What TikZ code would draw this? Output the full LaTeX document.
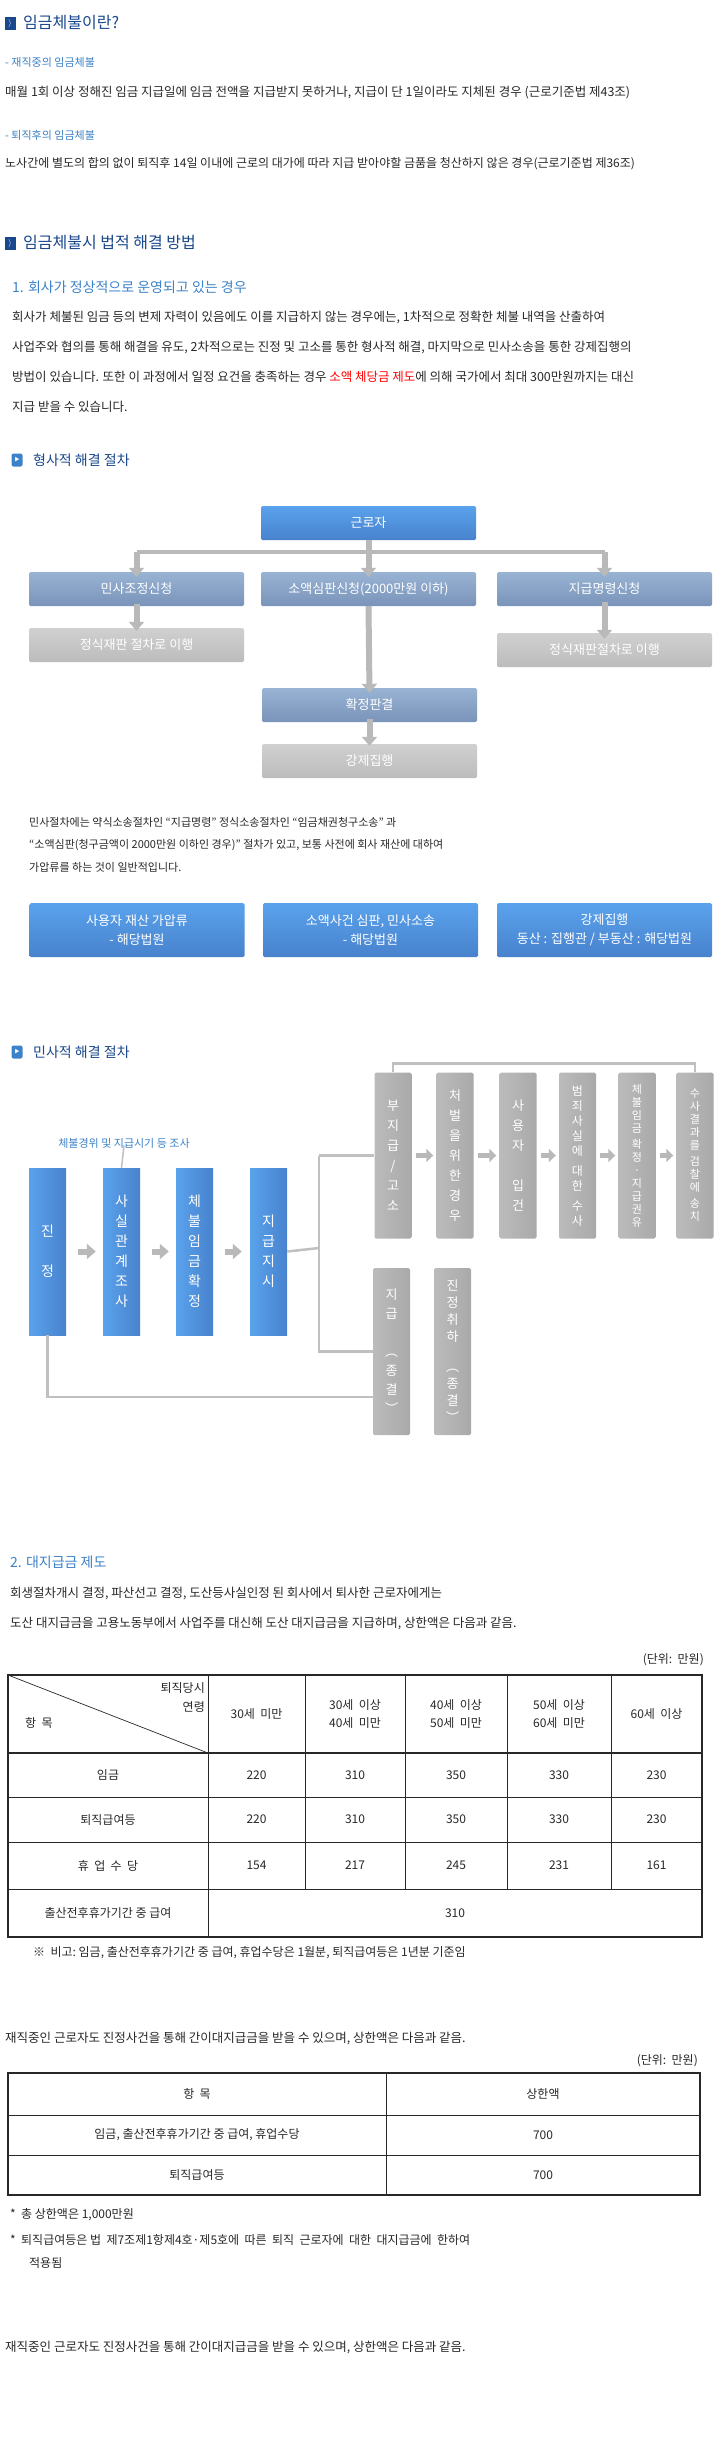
\documentclass[tikz,border=0pt]{standalone}
\usepackage{fontspec}
\setmainfont{Noto Sans CJK KR}
\usetikzlibrary{arrows.meta,calc}

\definecolor{titleblue}{RGB}{26,72,140}
\definecolor{subblue}{RGB}{60,130,200}
\definecolor{bluetop}{RGB}{90,162,236}
\definecolor{bluebot}{RGB}{72,130,205}
\definecolor{steeltop}{RGB}{152,179,211}
\definecolor{steelbot}{RGB}{122,148,186}
\definecolor{graytop}{RGB}{208,208,208}
\definecolor{graybot}{RGB}{188,188,188}
\definecolor{argray}{RGB}{185,185,185}
\definecolor{txt}{RGB}{40,40,40}

\newcommand{\fsz}[2]{\fontsize{#1}{#2}\selectfont}

\tikzstyle{body}      = [anchor=west,inner sep=0,text=txt,font=\fsz{12.5}{15}]
\tikzstyle{small}     = [anchor=west,inner sep=0,text=txt,font=\fsz{11}{13}]
\tikzstyle{tcell}     = [inner sep=0,text=txt,font=\fsz{12}{18},align=center]
\tikzstyle{head}      = [anchor=west,inner sep=0,text=titleblue,font=\fsz{16}{18}]
\tikzstyle{subhead}   = [anchor=west,inner sep=0,text=subblue,font=\fsz{14}{16}]
\tikzstyle{hicon}     = [fill=titleblue,minimum width=11pt,minimum height=13pt,inner sep=0,text=white,font=\fsz{8}{8}]
\tikzstyle{sicon}     = [fill=subblue,rounded corners=2pt,minimum width=11pt,minimum height=13pt,inner sep=0,text=white,font=\fsz{5}{5}]
\tikzstyle{flowbox}   = [minimum width=215pt,minimum height=34pt,inner sep=0,rounded corners=1.5pt,text=white,font=\fsz{13}{19},align=center]
\tikzstyle{bluebox}   = [flowbox,top color=bluetop,bottom color=bluebot]
\tikzstyle{steelbox}  = [flowbox,top color=steeltop,bottom color=steelbot]
\tikzstyle{graybox}   = [flowbox,top color=graytop,bottom color=graybot]
\tikzstyle{bluecol}   = [minimum width=37pt,minimum height=167pt,inner sep=0,left color=bluetop,right color=bluebot,text=white,font=\fsz{14}{20},align=center]
\tikzstyle{graycol}   = [minimum width=37pt,minimum height=166pt,inner sep=0,rounded corners=1.5pt,left color=graytop!90!black,right color=graybot!90!black,text=white,font=\fsz{13}{20},align=center]
\tikzstyle{garrow}    = [draw=argray,line width=6pt,-{Triangle[length=9pt,width=15pt]}]
\tikzstyle{gline}     = [draw=argray,line width=6pt]
\tikzstyle{cline}     = [draw=argray!90,line width=2.5pt]

\begin{document}
\begin{tikzpicture}[x=1pt,y=-1pt]
    \useasboundingbox[fill=white] (0,0) rectangle (722,2463);

    % What is wage arrears
    \node[hicon] (ic1) at (10,23) {$\rangle$};
    \node[head] (h1) at (23,23) {임금체불이란?};
    \node[small,text=subblue] (s1) at (5,62) {- 재직중의 임금체불};
    \node[body] (b1) at (5,93) {매월 1회 이상 정해진 임금 지급일에 임금 전액을 지급받지 못하거나, 지급이 단 1일이라도 지체된 경우 (근로기준법 제43조)};
    \node[small,text=subblue] (s2) at (5,135) {- 퇴직후의 임금체불};
    \node[body,font=\fsz{12}{15}] (b2) at (5,164) {노사간에 별도의 합의 없이 퇴직후 14일 이내에 근로의 대가에 따라 지급 받아야할 금품을 청산하지 않은 경우(근로기준법 제36조)};

    % Legal remedies
    \node[hicon] (ic2) at (10,243) {$\rangle$};
    \node[head] (h2) at (23,243) {임금체불시 법적 해결 방법};
    \node[subhead] (s3) at (12,287) {1. 회사가 정상적으로 운영되고 있는 경우};
    \node[body] (p1) at (12,317) {회사가 체불된 임금 등의 변제 자력이 있음에도 이를 지급하지 않는 경우에는, 1차적으로 정확한 체불 내역을 산출하여};
    \node[body] (p2) at (12,347) {사업주와 협의를 통해 해결을 유도, 2차적으로는 진정 및 고소를 통한 형사적 해결, 마지막으로 민사소송을 통한 강제집행의};
    \node[body] (p3) at (12,377) {방법이 있습니다. 또한 이 과정에서 일정 요건을 충족하는 경우 {\color{red}소액 체당금 제도}에 의해 국가에서 최대 300만원까지는 대신};
    \node[body] (p4) at (12,407) {지급 받을 수 있습니다.};

    % Criminal procedure
    \node[sicon] (ic3) at (17,460) {▶};
    \node[subhead,text=titleblue] (h3) at (33,460) {형사적 해결 절차};
    \node[bluebox] (grj) at (368.5,523) {근로자};
    \node[steelbox] (mjs) at (136.5,589) {민사조정신청};
    \node[steelbox] (sas) at (368.5,589) {소액심판신청(2000만원 이하)};
    \node[steelbox] (jms) at (604.5,589) {지급명령신청};
    \node[graybox] (jsl) at (136.5,645) {정식재판 절차로 이행};
    \node[graybox] (jsr) at (604.5,650) {정식재판절차로 이행};
    \node[steelbox] (hjp) at (369.5,705) {확정판결};
    \node[graybox] (gjj) at (369.5,761) {강제집행};
    \coordinate (bar) at (368.5,552);
    \draw[gline] (grj.south) -- (bar);
    \draw[draw=argray,line width=4pt] (bar -| mjs) -- (bar -| jms);
    \draw[garrow] (bar -| mjs) -- ([yshift=-5pt]mjs.north);
    \draw[garrow] (bar) -- ([yshift=-5pt]sas.north);
    \draw[garrow] (bar -| jms) -- ([yshift=-5pt]jms.north);
    \draw[garrow] ([yshift=2pt]mjs.south) -- ([yshift=-3pt]jsl.north);
    \draw[garrow] ([yshift=4pt]jms.south) -- ([yshift=-6pt]jsr.north);
    \draw[garrow] (sas.south) -- ([yshift=-5pt]hjp.north);
    \draw[garrow] ([yshift=3pt]hjp.south) -- ([yshift=-2pt]gjj.north);

    \node[small] (n1) at (29,822) {민사절차에는 약식소송절차인 “지급명령” 정식소송절차인 “임금채권청구소송” 과};
    \node[small] (n2) at (29,845) {“소액심판(청구금액이 2000만원 이하인 경우)” 절차가 있고, 보통 사전에 회사 재산에 대하여};
    \node[small] (n3) at (29,867) {가압류를 하는 것이 일반적입니다.};
    \node[bluebox,minimum height=54pt] (ca1) at (137,930) {사용자 재산 가압류\\- 해당법원};
    \node[bluebox,minimum height=54pt] (ca2) at (370.5,930) {소액사건 심판, 민사소송\\- 해당법원};
    \node[bluebox,minimum height=54pt] (ca3) at (604.5,930) {강제집행\\동산 : 집행관 / 부동산 : 해당법원};

    % Civil procedure
    \node[sicon] (ic4) at (17,1052) {▶};
    \node[subhead,text=titleblue] (h4) at (33,1052) {민사적 해결 절차};
    \node[bluecol] (jj)   at (47.5,1251.5)  {진\\[20pt]정};
    \node[bluecol] (sg)   at (121.5,1251.5) {사\\실\\관\\계\\조\\사};
    \node[bluecol] (chg)  at (194.5,1251.5) {체\\불\\임\\금\\확\\정};
    \node[bluecol] (jgjs) at (268.5,1251.5) {지\\급\\지\\시};
    \node[inner sep=0,text=subblue,font=\fsz{11}{13}] (note) at (124,1143) {체불경위 및 지급시기 등 조사};
    \draw[cline,line width=1.5pt] (sg.north) -- ([yshift=3pt]note.south);
    \draw[garrow] ([xshift=12pt]jj.east) -- ([xshift=-7pt]sg.west);
    \draw[garrow] ([xshift=12pt]sg.east) -- ([xshift=-7pt]chg.west);
    \draw[garrow] ([xshift=12pt]chg.east) -- ([xshift=-8pt]jgjs.west);

    \node[graycol] (bjg)  at (393,1155.5) {부\\지\\급\\/\\고\\소};
    \node[graycol] (cbg)  at (455,1155.5) {처\\벌\\을\\위\\한\\경\\우};
    \node[graycol] (sye)  at (518,1155.5) {사\\용\\자\\\\입\\건};
    \node[graycol,font=\fsz{12}{15}] (bjs) at (577.5,1155.5) {범\\죄\\사\\실\\에\\[5pt]대\\한\\[5pt]수\\사};
    \node[graycol,font=\fsz{11}{13}] (chj) at (637,1155.5) {체\\불\\임\\금\\[3pt]확\\정\\·\\지\\급\\권\\유};
    \node[graycol,font=\fsz{11}{13}] (ssg) at (695,1155.5) {수\\사\\결\\과\\를\\[3pt]검\\찰\\에\\[3pt]송\\치};
    \node[graycol,minimum height=167pt,font=\fsz{13}{19}] (jg)  at (391.5,1351.5) {지\\급\\\\︵\\종\\결\\︶};
    \node[graycol,minimum height=167pt,font=\fsz{13}{17}] (jcs) at (452.5,1351.5) {진\\정\\취\\하\\[-4pt]\\︵\\종\\결\\︶};
    \foreach \a/\b in {bjg/cbg,cbg/sye,sye/bjs,bjs/chj,chj/ssg}
        \draw[garrow,line width=5pt,-{Triangle[length=7pt,width=13pt]}] ([xshift=4pt]\a.east) -- ([xshift=-3pt]\b.west);
    \coordinate (split) at (319,1248);
    \coordinate (loop) at (46,1397);
    \draw[cline] (jgjs.east) -- (split);
    \draw[cline] (split |- bjg.west) -- (bjg.west);
    \draw[cline] (split |- bjg.west) -- (split |- jg.west) -- (jg.west);
    \draw[cline] (bjg.north) -- ++(0,-9) -| (ssg.north);
    \draw[cline] (jj.south) -- (jj.south |- loop) -- (loop -| jg.west);

    % Substitute payment
    \node[subhead] (s4) at (10,1562) {2. 대지급금 제도};
    \node[body] (q1) at (10,1593) {회생절차개시 결정, 파산선고 결정, 도산등사실인정 된 회사에서 퇴사한 근로자에게는};
    \node[body] (q2) at (10,1623) {도산 대지급금을 고용노동부에서 사업주를 대신해 도산 대지급금을 지급하며, 상한액은 다음과 같음.};
    \node[tcell,anchor=east] (u1) at (704,1660) {(단위:\ \ 만원)};
    % table 1
    \draw[line width=0.7pt,txt] (208,1675) -- (208,1937)
        (305,1675) -- (305,1889) (405,1675) -- (405,1889) (507,1675) -- (507,1889) (611,1675) -- (611,1889)
        (8,1797) -- (702,1797) (8,1842) -- (702,1842) (8,1889) -- (702,1889);
    \draw[line width=0.7pt,txt] (8,1675) -- (208,1753);
    \draw[line width=1.6pt,txt] (8,1675) rectangle (702,1937) (8,1753) -- (702,1753);
    \node[tcell,anchor=east] (th1) at (205,1688) {퇴직당시};
    \node[tcell,anchor=east] (th2) at (205,1707) {연령};
    \node[tcell,anchor=west] (th3) at (25,1723) {항\ \ 목};
    \foreach \x/\t [count=\i] in {256.5/30세\ \ 미만,355/30세\ \ 이상\\40세\ \ 미만,456/40세\ \ 이상\\50세\ \ 미만,559/50세\ \ 이상\\60세\ \ 미만,656.5/60세\ \ 이상}
        \node[tcell] (hc\i) at (\x,1714) {\t};
    \foreach \y/\t/\va/\vb/\vc/\vd/\ve [count=\r] in {1775/임금/220/310/350/330/230,1819.5/퇴직급여등/220/310/350/330/230,1865.5/휴\ \ 업\ \ 수\ \ 당/154/217/245/231/161}{
        \node[tcell] (rh\r) at (108,\y) {\t};
        \node[tcell] at (256.5,\y) {\va};
        \node[tcell] at (355,\y) {\vb};
        \node[tcell] at (456,\y) {\vc};
        \node[tcell] at (559,\y) {\vd};
        \node[tcell] at (656.5,\y) {\ve};
    }
    \node[tcell] (rh4) at (108,1913) {출산전후휴가기간\ 중\ 급여};
    \node[tcell] (v4) at (455,1913) {310};
    \node[tcell,anchor=west] (fn1) at (33,1953) {※\ \ 비고:\ 임금,\ 출산전후휴가기간\ 중\ 급여,\ 휴업수당은\ 1월분,\ 퇴직급여등은\ 1년분\ 기준임};

    % interim substitute payment
    \node[body] (r1) at (5,2038) {재직중인 근로자도 진정사건을 통해 간이대지급금을 받을 수 있으며, 상한액은 다음과 같음.};
    \node[tcell,anchor=east] (u2) at (698,2061) {(단위:\ \ 만원)};
    \draw[line width=0.7pt,txt] (386,2073) -- (386,2195) (8,2115) -- (700,2115) (8,2155) -- (700,2155);
    \draw[line width=1.6pt,txt] (8,2073) rectangle (700,2195);
    \node[tcell] (t2a) at (197,2094) {항\ \ 목};
    \node[tcell] (t2b) at (543,2094) {상한액};
    \node[tcell] (t2c) at (197,2135) {임금,\ 출산전후휴가기간\ 중\ 급여,\ 휴업수당};
    \node[tcell] (t2d) at (543,2135) {700};
    \node[tcell] (t2e) at (197,2175) {퇴직급여등};
    \node[tcell] (t2f) at (543,2175) {700};
    \node[tcell,anchor=west] (fn2) at (10,2215) {*\ \ 총\ 상한액은\ 1,000만원};
    \node[tcell,anchor=west] (fn3) at (10,2240) {*\ \ 퇴직급여등은\ 법\ \ 제7조제1항제4호·제5호에\ \ 따른\ \ 퇴직\ \ 근로자에\ \ 대한\ \ 대지급금에\ \ 한하여};
    \node[tcell,anchor=west] (fn4) at (29,2263) {적용됨};
    \node[body] (r2) at (5,2347) {재직중인 근로자도 진정사건을 통해 간이대지급금을 받을 수 있으며, 상한액은 다음과 같음.};
\end{tikzpicture}
\end{document}
